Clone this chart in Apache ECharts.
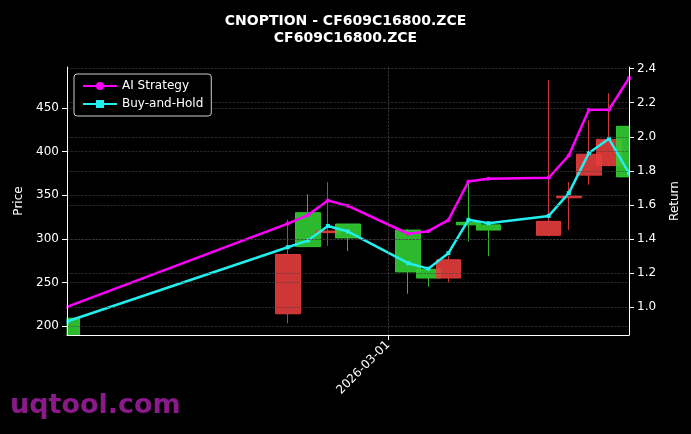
<!DOCTYPE html>
<html><head><meta charset="utf-8">
<script src="https://cdn.jsdelivr.net/npm/echarts@6/dist/echarts.min.js"></script>
<style>html,body{margin:0;background:#000}#c{width:691px;height:434px}</style>
</head><body><div id="c"></div>
<script>
const dates = ['2026-02-13','2026-02-14','2026-02-15','2026-02-16','2026-02-17','2026-02-18','2026-02-19','2026-02-20','2026-02-21','2026-02-22','2026-02-23','2026-02-24','2026-02-25','2026-02-26','2026-02-27','2026-02-28','2026-03-01','2026-03-02','2026-03-03','2026-03-04','2026-03-05','2026-03-06','2026-03-07','2026-03-08','2026-03-09','2026-03-10','2026-03-11','2026-03-12','2026-03-13'];
// [open, close, low, high], null = no trading
const ohlc = [[190,209,190,209],null,null,null,null,null,null,null,null,null,null,
 [282,214,203,322],[291,330,291,351],[309,307,292,365],[301,317,286,317],null,null,
 [262,310,237,311],[255,265,245,266],[276,255,250,280],[316,319,297,364],[310,316,280,317],null,null,
 [320,304,303,482],[349,347,310,365],[397,373,362,436],[414,384,383,467],[371,429,371,429]];
const aiStrategy = [1.00,null,null,null,null,null,null,null,null,null,null,1.49,1.54,1.625,1.594,null,null,1.43,1.445,1.51,1.737,1.753,null,null,1.759,1.89,2.159,2.159,2.345];
const buyHold = [0.914,null,null,null,null,null,null,null,null,null,null,1.351,1.39,1.476,1.443,null,null,1.257,1.225,1.316,1.512,1.492,null,null,1.535,1.669,1.904,1.988,1.786];
const priceTicks = [200,250,300,350,400,450];
const returnTicks = [1.0,1.2,1.4,1.6,1.8,2.0,2.2,2.4];

const chart = echarts.init(document.getElementById('c'));
const gridLine = {show:true,lineStyle:{color:'#444',type:'dashed',width:0.6}};
chart.setOption({
  backgroundColor:'#000',
  animation:false,
  title:{text:'CNOPTION - CF609C16800.ZCE\nCF609C16800.ZCE',left:'center',top:8,
    textStyle:{color:'#fff',fontSize:14,fontWeight:'bold',fontFamily:'DejaVu Sans',lineHeight:17}},
  graphic:[
    {type:'text',left:10,top:392,z:1,style:{text:'uqtool.com',fill:'#8a1a8a',font:'bold 27px DejaVu Sans'}},
    {type:'rect',z:5,shape:{x:30,y:300,width:36.5,height:40},style:{fill:'#000'}},
    {type:'rect',z:5,shape:{x:629.5,y:100,width:30,height:240},style:{fill:'#000'}}
  ],
  legend:{left:74,top:74,orient:'vertical',itemGap:6,padding:[6,8],z:20,
    backgroundColor:'#000',borderColor:'#ccc',borderWidth:1,borderRadius:3,
    itemWidth:34,itemHeight:10,
    textStyle:{color:'#fff',fontSize:12,fontFamily:'DejaVu Sans'},
    data:['AI Strategy','Buy-and-Hold']},
  grid:{left:67,right:62,top:67,bottom:99},
  xAxis:{type:'category',data:dates,boundaryGap:false,z:10,
    axisLine:{lineStyle:{color:'#fff'}},
    axisTick:{interval:(i)=>i===16,lineStyle:{color:'#fff'}},
    axisLabel:{interval:(i)=>i===16,rotate:45,color:'#fff',fontSize:12,fontFamily:'DejaVu Sans',margin:8},
    splitLine:{show:true,interval:(i)=>i===16,lineStyle:{color:'#555',type:'dashed',width:0.6}}},
  yAxis:[
    {type:'value',min:189.7,max:497,name:'Price',nameLocation:'middle',nameGap:40,z:10,
     nameTextStyle:{color:'#fff',fontSize:12,fontFamily:'DejaVu Sans'},
     axisLine:{show:true,lineStyle:{color:'#fff'}},
     axisTick:{show:true,customValues:priceTicks,lineStyle:{color:'#fff'}},
     axisLabel:{customValues:priceTicks,color:'#fff',fontSize:12,fontFamily:'DejaVu Sans'},
     splitLine:gridLine},
    {type:'value',min:0.835,max:2.41,name:'Return',nameLocation:'middle',nameGap:40,z:10,
     nameTextStyle:{color:'#fff',fontSize:12,fontFamily:'DejaVu Sans'},
     axisLine:{show:true,lineStyle:{color:'#fff'}},
     axisTick:{show:true,customValues:returnTicks,lineStyle:{color:'#fff'}},
     axisLabel:{customValues:returnTicks,formatter:v=>v.toFixed(1),color:'#fff',fontSize:12,fontFamily:'DejaVu Sans'},
     splitLine:gridLine}
  ],
  series:[
    {type:'candlestick',name:'OHLC',data:ohlc.map(d=>d||'-'),barWidth:25,clip:true,z:2,
     itemStyle:{color:'rgba(50,205,50,0.9)',color0:'rgba(230,60,60,0.9)',borderColor:'rgba(50,205,50,0.9)',borderColor0:'rgba(230,60,60,0.9)',borderWidth:1}},
    {type:'line',name:'AI Strategy',yAxisIndex:1,data:aiStrategy,connectNulls:true,z:3,
     symbol:'circle',symbolSize:4,lineStyle:{color:'#ff00ff',width:2.5},itemStyle:{color:'#ff00ff'}},
    {type:'line',name:'Buy-and-Hold',yAxisIndex:1,data:buyHold,connectNulls:true,z:3,
     symbol:'rect',symbolSize:4,lineStyle:{color:'#22eeee',width:2.5},itemStyle:{color:'#22eeee'}}
  ]
});
</script></body></html>
